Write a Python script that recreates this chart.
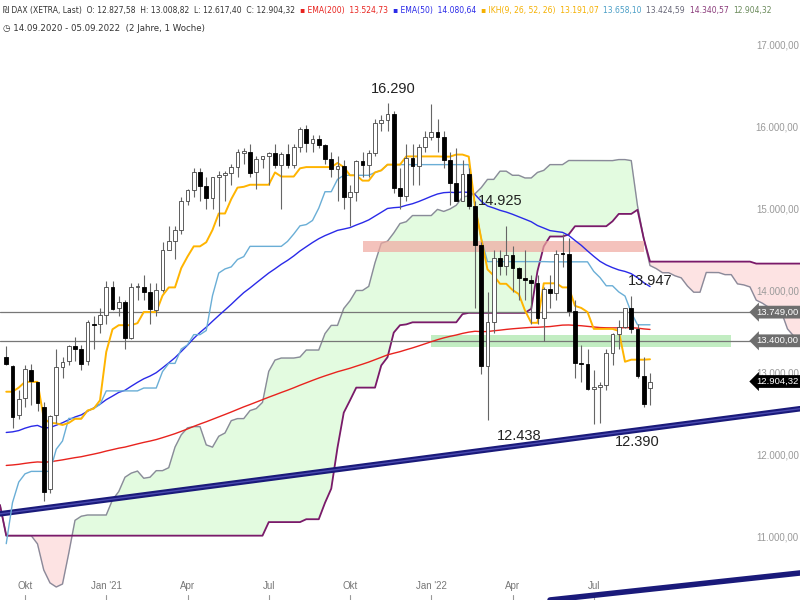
import numpy as np, pandas as pd, matplotlib
matplotlib.use("Agg")
import matplotlib.pyplot as plt, seaborn as sns

# ---- pre-history (weekly high / low, Mar 2019 - Sep 2020), only used for Ichimoku ----
hist_high = [11790,11550,12050,12050,12250,12350,12440,12300,12250,12200,12050,12080,12150,12400,12400,12650,12600,12480,12480,12400,
             11900,11800,11800,11970,12200,12480,12500,12450,12450,12550,12800,12900,13000,13300,13300,13300,13300,13250,13300,13420,
             13350,13380,13500,13550,13640,13500,13600,13800,13800,13400,12130,11500,9650,10000,10200,10600,10800,10800,11300,10950,
             10950,11250,11800,12900,12900,12400,12600,12650,12800,13100,13300,13000,12700,13250,13100,13300,13460,13350]
hist_low = [11300,11300,11500,11850,12000,12150,12200,11900,11900,11950,11620,11650,12000,12050,12200,12380,12300,12200,12180,11850,
            11270,11270,11550,11600,11850,12130,12300,12180,11850,12000,12500,12600,12750,13000,13150,13060,13100,12900,13050,13250,
            13280,13050,13000,13350,13300,12950,12950,13550,13400,11720,11400,9000,8255,8400,9400,9900,10100,10250,10400,10400,
            10160,10700,10900,11600,11800,11900,11950,12100,12350,12500,12800,12100,12200,12800,12700,12900,12700,12900]

# ---- displayed weekly candles 14.09.2020 - 05.09.2022 ----
opens = [13200,13090,12500,12700,13050,12900,12600,11600,12500,13076,13150,13335,13300,13150,13600,13600,
 13720,14050,13800,13870,13430,14050,14050,13990,13780,14024,14502,14620,14750,15107,15234,15460,15280,15136,15400,15417,15437,15520,
 15690,15693,15450,15608,15650,15688,15540,15669,15544,15761,15977,15808,15851,15781,15609,15490,15531,15156,15206,15587,15543,15688,
 16054,16094,16159,15257,15169,15623,15531,15756,
 15885,15948,15883,15603,15318,15100,15425,15042,14567,13094,13628,14413,14306,14446,14283,14164,14142,14098,13674,14027,13982,14462,
 14460,13762,13126,13118,12813,12834,12864,13254,13484,13573,13795,13544,12971,12827]
highs = [13340,13100,12800,13100,13120,12900,12650,12500,13300,13200,13350,13450,13350,13650,13700,13800,
 14130,14130,13950,13900,14100,14100,14200,14100,14100,14600,14800,14800,15150,15250,15500,15500,15400,15400,15470,15470,15550,15730,
 15750,15800,15650,15650,15700,15800,15700,15800,15800,16000,16030,15900,15900,15800,15700,15650,15600,15300,15600,15700,15720,16100,
 16150,16290,16200,15500,15800,15800,15800,15950,
 16285,16100,15950,15700,15750,15600,15500,15100,14600,14000,14500,14500,14800,14550,14300,14500,14200,14200,14050,14200,14500,14700,
 14650,13900,13350,13300,13050,12900,13300,13500,13650,13800,13950,13600,13200,13008]
lows = [13100,12340,12450,12600,12620,12550,11450,11550,12400,12950,13100,13150,13050,13100,13300,13500,
 13600,13780,13700,13300,13420,13900,13900,13600,13700,14000,14500,14400,14700,15050,15150,15100,15000,15000,14800,15100,15300,15400,
 15550,15400,15250,15500,15300,15500,15000,15500,15500,15700,15700,15700,15750,15550,15400,15100,15000,14800,15100,15400,15400,15650,
 15950,15950,15200,15000,15100,15300,15300,15700,
 15850,15700,15500,15050,15200,15100,15000,13800,13000,12438,13500,14200,14200,14000,13900,13900,13600,13600,13400,13800,13900,14300,
 13700,12950,12900,12800,12390,12400,12800,13100,13300,13550,13500,12950,12600,12617]
closes = [13116,12470,12689,13051,12909,12646,11556,12480,13076,13137,13335,13298,13114,13631,13587,13719,
 14050,13788,13873,13432,14057,14050,13993,13786,14024,14502,14621,14748,15107,15234,15460,15280,15136,15400,15417,15437,15520,15693,
 15693,15448,15608,15650,15688,15540,15669,15544,15761,15977,15808,15851,15781,15609,15490,15531,15156,15206,15587,15543,15688,16054,
 16094,16159,15257,15169,15623,15531,15756,15885,
 15948,15883,15603,15318,15100,15425,15042,14567,13094,13628,14413,14306,14446,14283,14164,14142,14098,13674,14027,13982,14462,14460,
 13762,13126,13118,12813,12834,12864,13254,13484,13573,13795,13544,12971,12630,12904]

ema200_seed, ema50_seed = 11870, 12250
month_labels = ["Okt", "Jan '21", "Apr", "Jul", "Okt", "Jan '22", "Apr", "Jul"]
month_starts = ["2020-10-01","2021-01-01","2021-04-01","2021-07-01","2021-10-01","2022-01-01","2022-04-01","2022-07-01"]
price_ticks = [11000,12000,13000,14000,15000,16000,17000]
annotations = [(62,16290,"16.290"),(79,14925,"14.925"),(103,13947,"13.947"),(82,12438,"12.438"),(101,12390,"12.390")]
levels = [13749, 13400]
last_price = 12904.32
pink_zone = (14480, 14620, 57, 102)
green_zone = (13330, 13470, 68, 116)
trend1 = [(-1, 11293), (127, 12573)]
trend2 = [(87, 10244), (127, 10573)]

n = len(closes); H0 = len(hist_high)
dates = pd.date_range("2020-09-14", periods=n, freq="7D")
allH = pd.Series(hist_high + highs, dtype=float); allL = pd.Series(hist_low + lows, dtype=float)
tenkan = (allH.rolling(9).max() + allL.rolling(9).min()) / 2
kijun = (allH.rolling(26).max() + allL.rolling(26).min()) / 2
spanA = ((tenkan + kijun) / 2)
spanB = (allH.rolling(52).max() + allL.rolling(52).min()) / 2
idx_all = np.arange(len(allH)) - H0
sA_x = idx_all + 26; sA = spanA.values; sB = spanB.values
m = (sA_x >= -1) & ~np.isnan(sA) & ~np.isnan(sB)
sA_x, sA, sB = sA_x[m], sA[m], sB[m]

def ema(vals, seed, span):
    a = 2 / (span + 1); out = []; e = seed
    for v in vals:
        e = e + a * (v - e); out.append(e)
    return np.array(out)
ema200 = ema(closes, ema200_seed, 200); ema50 = ema(closes, ema50_seed, 50)

sns.set_style("white")
fig = plt.figure(figsize=(8, 6), dpi=100)
ax = fig.add_axes([0, 0, 1, 0.933])
x = np.arange(n)

ax.fill_between(sA_x, sA, sB, where=sA >= sB, color="#e3fbe0", interpolate=True, zorder=1)
ax.fill_between(sA_x, sA, sB, where=sA < sB, color="#fde3e3", interpolate=True, zorder=1)
ax.plot(sA_x, sA, color="#8a8a9a", lw=1, zorder=2)
ax.plot(sA_x, sB, color="#7a1a6a", lw=1.3, zorder=2)

ax.fill_between([pink_zone[2], pink_zone[3]], pink_zone[0], pink_zone[1], color="#f0a8a0", alpha=0.7, lw=0, zorder=2)
ax.fill_between([green_zone[2], green_zone[3]], green_zone[0], green_zone[1], color="#a8e6a8", alpha=0.7, lw=0, zorder=2)
for lv in levels:
    ax.axhline(lv, color="#777777", lw=0.9, zorder=3)
ax.plot(*zip(*trend1), color="#1a1a7a", lw=4, zorder=3)
ax.plot(*zip(*trend1), color="#4a4ab0", lw=1, zorder=3)
ax.plot(*zip(*trend2), color="#1a1a7a", lw=4, zorder=3)

tk = tenkan.values[H0:]; kj = kijun.values[H0:]
sns.lineplot(x=x, y=ema200, color="#e8231e", lw=1, ax=ax, zorder=4)
sns.lineplot(x=x, y=ema50, color="#2a2ae8", lw=1, ax=ax, zorder=4)
sns.lineplot(x=x, y=kj, color="#6aaed6", lw=1, ax=ax, zorder=4)
sns.lineplot(x=x, y=tk, color="#ffb400", lw=1.4, ax=ax, zorder=5)

for i in range(n):
    o, h, l, c = opens[i], highs[i], lows[i], closes[i]
    ax.vlines(i, l, h, color="#666666", lw=0.8, zorder=6)
    up = c >= o
    ax.bar(i, max(abs(c - o), 15), bottom=min(o, c), width=0.62,
           color="white" if up else "black", edgecolor="#444444" if up else "black", lw=0.6, zorder=7)

ax.set_xlim(-1, 127); ax.set_ylim(10244, 17060)
ax.set_xticks([]); ax.set_yticks([])
for s in ax.spines.values(): s.set_visible(False)

def fmt(v):
    s = f"{v:,.2f}"
    return s.replace(",", "X").replace(".", ",").replace("X", ".")
for p in price_ticks:
    if p == 13000:
        continue_flag = True
    ax.text(126.8, p, fmt(p), ha="right", va="center", fontsize=7, color="#9a9a9a", family="Liberation Sans")
for lab, d in zip(month_labels, month_starts):
    i = int(np.searchsorted(dates, pd.Timestamp(d)))
    ax.plot([i, i], [10244, 10310], color="#999999", lw=0.8)
    ax.text(i, 10420, lab, ha="center", va="center", fontsize=7, color="#777777", family="Liberation Sans")
for xi, yv, t in annotations:
    dy = 180 if yv > 13500 else -200
    if t == "12.390": dy = -220
    ax.text(xi, yv + dy, t, ha="center", va="center", fontsize=10.5, color="#222222", family="Liberation Sans", zorder=9)
for lv, fc in [(levels[0], "#6e6e6e"), (levels[1], "#6e6e6e"), (last_price, "black")]:
    ax.text(120.0, lv, fmt(lv), ha="left", va="center", fontsize=6.8, color="white", family="Liberation Sans", zorder=9,
            bbox=dict(boxstyle="larrow,pad=0.2", fc=fc, ec="none"))

parts = [("₪ DAX (XETRA, Last)  O: 12.827,58  H: 13.008,82  L: 12.617,40  C: 12.904,32  ", "#333333"),
         ("▪ EMA(200)  13.524,73  ", "#e8231e"), ("▪ EMA(50)  14.080,64  ", "#2a2ae8"),
         ("▪ IKH(9, 26, 52, 26)  13.191,07  ", "#f5b000"), ("13.658,10  ", "#4a9ec6"),
         ("13.424,59  ", "#666677"), ("14.340,57  ", "#8a3a7a"), ("12.904,32", "#6a8a5a")]
xpos = 0.004
r = fig.canvas.get_renderer()
for t, c in parts:
    tx = fig.text(xpos, 0.982, t, fontsize=5.5, color=c, va="center", family="DejaVu Sans")
    xpos += tx.get_window_extent(renderer=r).width / 800
fig.text(0.004, 0.953, "◷ 14.09.2020 - 05.09.2022  (2 Jahre, 1 Woche)", fontsize=6.2, color="#333333", va="center")
fig.savefig("out.png", dpi=100)
